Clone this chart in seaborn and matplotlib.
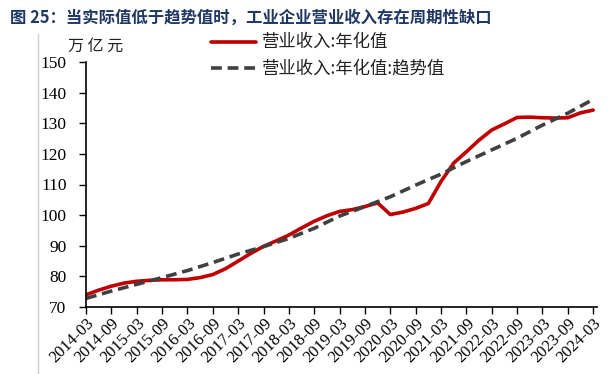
import numpy as np
import pandas as pd
import matplotlib
matplotlib.use("Agg")
import matplotlib.pyplot as plt
import seaborn as sns
from matplotlib.lines import Line2D

# quarterly revenue (annualised), 2014-03 .. 2024-03
quarters = [f"{y}-{m}" for y in range(2014, 2025) for m in ("03", "06", "09", "12")][:41]
revenue = [
    74.0, 75.5, 76.8, 77.8, 78.4, 78.7, 78.9, 78.9, 79.0, 79.6,
    80.6, 82.5, 85.0, 87.5, 89.8, 91.6, 93.5, 95.8, 98.0, 99.8,
    101.2, 101.8, 102.8, 104.0, 100.2, 101.0, 102.2, 103.8, 111.0, 117.0,
    120.7, 124.5, 127.8, 129.8, 131.9, 132.0, 131.8, 131.7, 131.8, 133.4,
    134.3,
]
# trend, half-yearly 2014-03 .. 2024-03
trend_labels = [f"{y}-{m}" for y in range(2014, 2025) for m in ("03", "09")][:21]
trend = [
    72.8, 75.2, 77.4, 79.6, 81.9, 84.5, 87.3, 89.7, 92.4, 95.7,
    99.7, 102.8, 106.0, 109.8, 113.4, 117.5, 121.3, 125.1, 129.4, 133.3,
    137.8,
]

df_rev = pd.DataFrame({"q": np.arange(len(quarters)), "v": revenue})
df_tr = pd.DataFrame({"q": [quarters.index(t) for t in trend_labels], "v": trend})

sns.set_theme(style="white")
plt.rcParams["font.family"] = ["Liberation Serif", "Noto Sans CJK SC", "DejaVu Sans"]
plt.rcParams["axes.unicode_minus"] = False

fig = plt.figure(figsize=(6.16, 3.74), dpi=100)
ax = fig.add_axes([86 / 616, 1 - 307 / 374, (597 - 86) / 616, (307 - 62) / 374])

sns.lineplot(data=df_rev, x="q", y="v", ax=ax, color="#C00000", linewidth=2.6)
sns.lineplot(data=df_tr, x="q", y="v", ax=ax, color="#404040", linewidth=2.6,
             linestyle=(0, (3, 1.6)))

ax.set_xlim(0, 40.3)
ax.set_ylim(70, 150)
ax.set_yticks(range(70, 151, 10))
ax.set_xticks(df_tr["q"])
ax.set_xticklabels(trend_labels, rotation=45, ha="right", rotation_mode="anchor",
                   fontsize=12)
ax.tick_params(axis="y", labelsize=12.5, length=5, width=1, direction="out", left=True,
               pad=9, colors="black")
ax.tick_params(axis="x", length=5, width=1, direction="out", bottom=True, pad=1,
               colors="black")
ax.set_xlabel("")
ax.set_ylabel("")
for s in ("top", "right"):
    ax.spines[s].set_visible(False)
for s in ("left", "bottom"):
    ax.spines[s].set_color("black")
    ax.spines[s].set_linewidth(1.2)

# legend drawn as figure artists
cjk = ["Noto Sans CJK SC", "DejaVu Sans"]
fig.add_artist(Line2D([211 / 616, 256 / 616], [1 - 42 / 374] * 2, color="#C00000", lw=2.6))
fig.add_artist(Line2D([211 / 616, 256 / 616], [1 - 68 / 374] * 2, color="#404040", lw=2.6,
                      linestyle=(0, (3, 1.6))))
fig.text(262 / 616, 1 - 42 / 374, "营业收入:年化值", family=cjk, fontsize=12.5,
         va="center", color="#222222")
fig.text(262 / 616, 1 - 68 / 374, "营业收入:年化值:趋势值", family=cjk, fontsize=12.5,
         va="center", color="#222222")

fig.text(68 / 616, 1 - 46 / 374, "万 亿 元", family=cjk, fontsize=11.5, va="center",
         color="#222222")
fig.text(10 / 616, 1 - 18 / 374, "图 25：当实际值低于趋势值时，工业企业营业收入存在周期性缺口",
         family=cjk, fontsize=11.8, fontweight="bold", va="center", color="#1F3864")

fig.add_artist(Line2D([38 / 616] * 2, [0, 1 - 34 / 374], color="#D0D0D0", lw=1))

fig.savefig("out.png", dpi=100)
